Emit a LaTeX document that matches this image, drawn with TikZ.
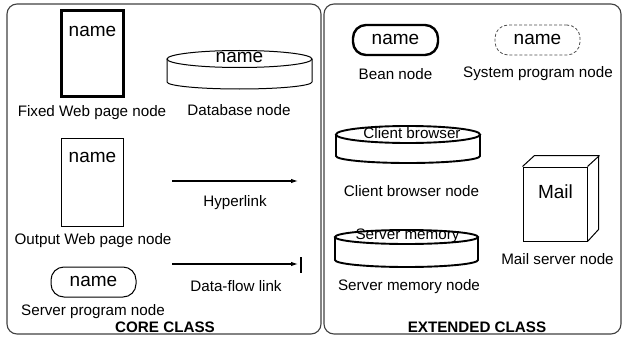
\documentclass[tikz,border=0pt]{standalone}
\usepackage{fontspec}
\setmainfont{Liberation Sans}
\usetikzlibrary{arrows.meta}
\begin{document}
\begin{tikzpicture}[x=1pt,y=-1pt,
  lbl/.style={font=\fontsize{15.2}{18}\selectfont, inner sep=0pt},
  big/.style={font=\fontsize{19}{22}\selectfont, inner sep=0pt},
  panel/.style={draw=black!75, line width=1.1pt, rounded corners=10pt},
  thickbox/.style={draw, line width=2.4pt},
  thinbox/.style={draw, line width=1pt},
  link/.style={line width=1.1pt, -{Latex[length=7pt,width=4.5pt]}}]
\useasboundingbox (0,0) rectangle (623,337);
% panels
\draw[panel] (7,4) rectangle (321,334);
\draw[panel] (324,4) rectangle (621,334);
% --- CORE CLASS ---
\node[thickbox, minimum width=62pt, minimum height=86pt, inner sep=0pt] (fixed) at (92.5,53.5) {};
\node[big] (fixedname) at (92.5,31) {name};
\node[lbl] (fixedcap) at (92,113) {Fixed Web page node};
% database cylinder
\draw[line width=1pt] (167,59) -- (167,82) arc[start angle=180,end angle=360,x radius=72.5pt,y radius=7pt] -- (312,59);
\draw[line width=1pt, fill=white] (239.5,59) ellipse[x radius=72.5pt, y radius=8.5pt];
\node[big] (dbname) at (239.5,57.5) {name};
\node[lbl] (dbcap) at (239,110) {Database node};
% output web page
\node[thinbox, minimum width=62pt, minimum height=88pt, inner sep=0pt] (output) at (92.5,182) {};
\node[big] (outname) at (92.5,157) {name};
\node[lbl] (outcap) at (93,241) {Output Web page node};
% server program
\node[thinbox, rounded corners=13pt, minimum width=85pt, minimum height=30pt, inner sep=0pt] (sp) at (93.5,282) {};
\node[big] (spname) at (93.5,281) {name};
\node[lbl] (spcap) at (93,312) {Server program node};
% hyperlink
\coordinate (h1) at (172,181);
\coordinate (h2) at (298,181);
\draw[link] (h1) -- (h2);
\node[lbl] (hcap) at (235,203) {Hyperlink};
% data-flow link
\coordinate (d1) at (172,264);
\coordinate (d2) at (298,264);
\coordinate (bt) at (301,257);
\coordinate (bb) at (301,273);
\draw[link] (d1) -- (d2);
\draw[line width=1.6pt] (bt) -- (bb);
\node[lbl] (dcap) at (236,286) {Data-flow link};
\node[lbl, font=\fontsize{15.2}{18}\selectfont\bfseries] (core) at (165,327) {CORE CLASS};
% --- EXTENDED CLASS ---
\node[thickbox, rounded corners=13pt, minimum width=85pt, minimum height=30pt, inner sep=0pt] (bean) at (395.5,40) {};
\node[big] (beanname) at (395.5,39) {name};
\node[lbl] (beancap) at (395.5,74) {Bean node};
\node[draw=black!70, densely dashed, line width=0.8pt, rounded corners=13pt, minimum width=85pt, minimum height=30pt, inner sep=0pt] (sys) at (537.5,40) {};
\node[big] (sysname) at (537.5,39) {name};
\node[lbl] (syscap) at (538,74) {System program node};
% client browser cylinder
\draw[line width=1.9pt] (336,134.5) -- (336,156) arc[start angle=180,end angle=360,x radius=72pt,y radius=7pt] -- (480,134.5);
\draw[line width=1.9pt, fill=white] (408,134.5) ellipse[x radius=72pt, y radius=8.5pt];
\node[lbl] (cbname) at (412,133) {Client browser};
\node[lbl] (cbcap) at (411.5,191) {Client browser node};
% server memory cylinder
\draw[line width=1.9pt] (335,237) -- (335,260) arc[start angle=180,end angle=360,x radius=71.5pt,y radius=7pt] -- (478,237);
\draw[line width=1.9pt, fill=white] (406.5,237) ellipse[x radius=71.5pt, y radius=7pt];
\node[lbl] (smname) at (407.5,236) {Server memory};
\node[lbl] (smcap) at (409,287) {Server memory node};
% mail box
\node[draw, line width=1pt, minimum width=64pt, minimum height=74pt, inner sep=0pt] (mail) at (555,204) {};
\draw[line width=1pt] (mail.north west) -- ++(12,-11) -- ++(64,0) -- ++(0,74) -- (mail.south east);
\draw[line width=1pt] (mail.north east) -- ++(12,-11);
\node[big] (mailname) at (555.5,192) {Mail};
\node[lbl] (mailcap) at (557.5,259) {Mail server node};
\node[lbl, font=\fontsize{15.2}{18}\selectfont\bfseries] (ext) at (477,327) {EXTENDED CLASS};
\end{tikzpicture}
\end{document}
